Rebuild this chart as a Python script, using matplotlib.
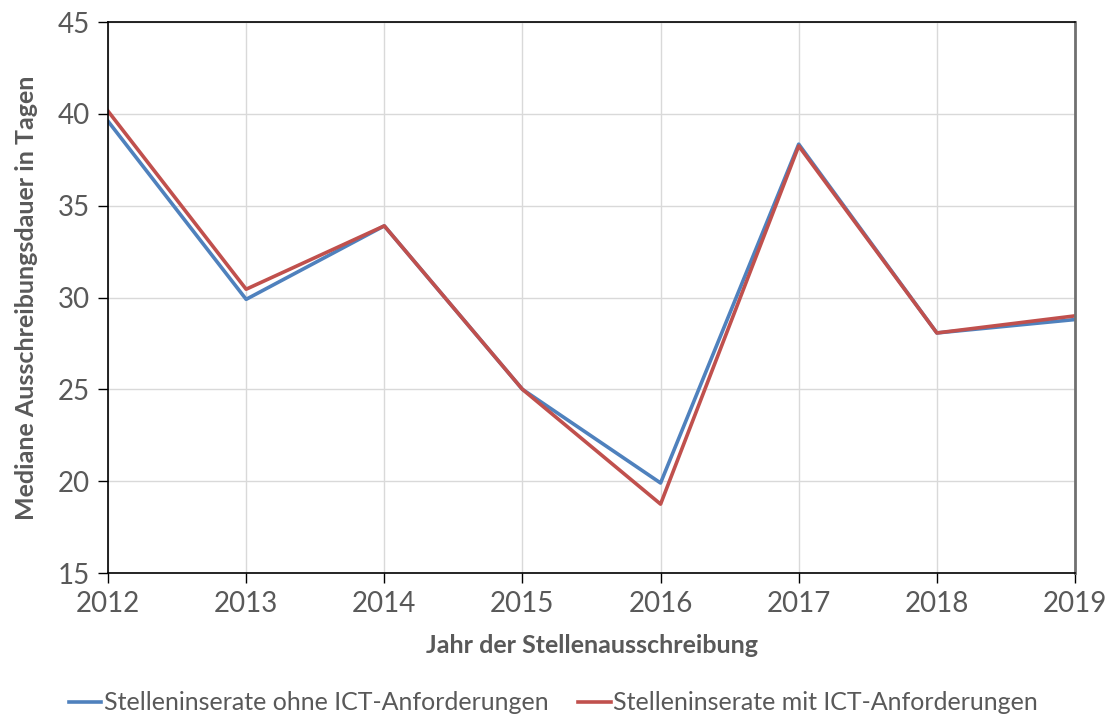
import matplotlib.pyplot as plt

# Median posting duration per year
jahre = [2012, 2013, 2014, 2015, 2016, 2017, 2018, 2019]
ohne_ict = [39.6, 29.9, 33.9, 25.0, 19.9, 38.35, 28.07, 28.8]
mit_ict = [40.15, 30.45, 33.9, 25.0, 18.75, 38.25, 28.07, 29.0]

text_grau = '#595959'
plt.rcParams['font.family'] = ['Lato', 'DejaVu Sans']

fig = plt.figure(figsize=(11.07, 7.18), dpi=100)
ax = fig.add_axes([108 / 1107, 1 - 573 / 718, (1075 - 108) / 1107, (573 - 22) / 718])

ax.plot(jahre, ohne_ict, color='#4F81BD', lw=2.6, label='Stelleninserate ohne ICT-Anforderungen')
ax.plot(jahre, mit_ict, color='#C0504D', lw=2.6, label='Stelleninserate mit ICT-Anforderungen')

ax.set_xlim(2012, 2019)
ax.set_ylim(15, 45)
ax.set_xticks(jahre)
ax.set_yticks(range(15, 46, 5))
ax.grid(True, color='#D9D9D9', lw=1)
ax.set_axisbelow(True)

for s in ['left', 'bottom', 'top']:
    ax.spines[s].set_color('black')
    ax.spines[s].set_linewidth(1.2)
ax.spines['right'].set_color('#707070')
ax.spines['right'].set_linewidth(2)

ax.tick_params(axis='both', direction='out', length=7, width=1, color='black',
               labelsize=20, labelcolor=text_grau, pad=6)

ax.set_xlabel('Jahr der Stellenausschreibung', fontsize=18, fontweight='bold',
              color=text_grau, labelpad=12)
ax.set_ylabel('Mediane Ausschreibungsdauer in Tagen', fontsize=18, fontweight='bold',
              color=text_grau, labelpad=14)

fig.legend(loc='center', bbox_to_anchor=(0.5, 1 - 703 / 718), ncol=2, frameon=False,
           fontsize=18, labelcolor=text_grau, handlelength=1.3, handletextpad=0.1,
           columnspacing=1.2)

fig.savefig('out.png', dpi=100)
